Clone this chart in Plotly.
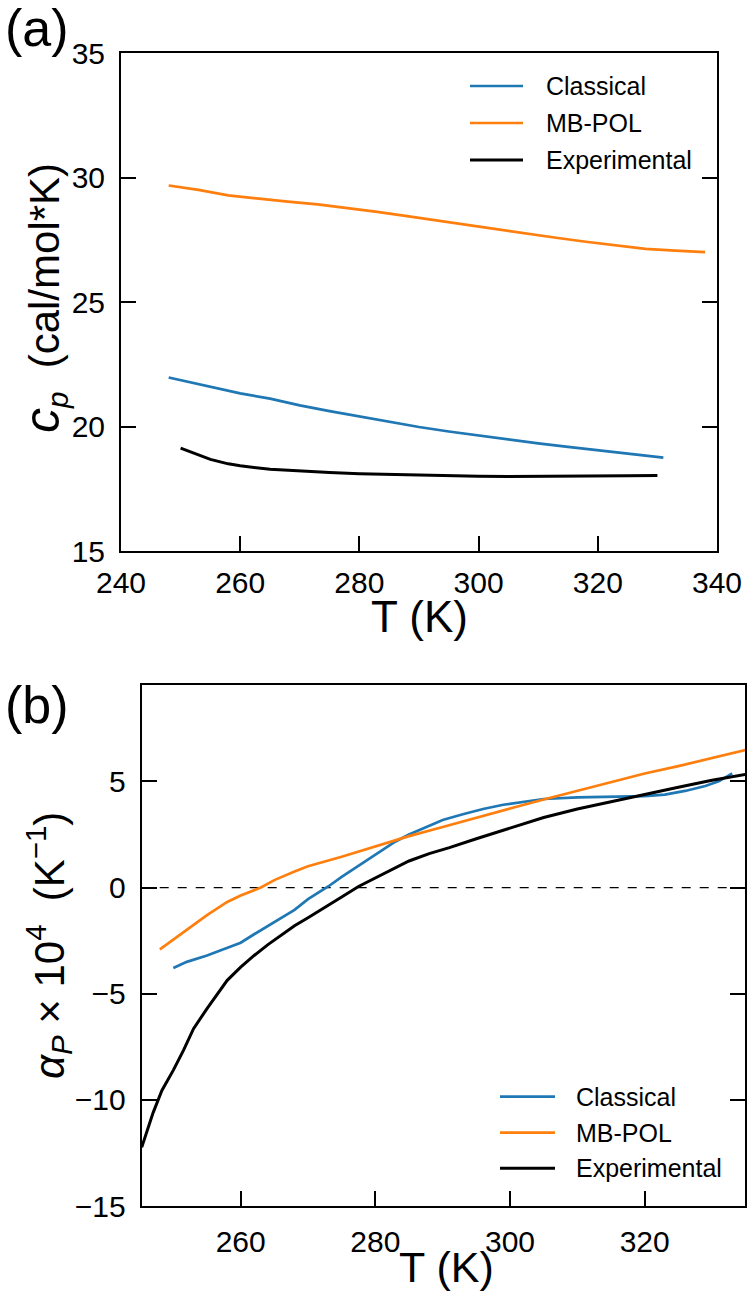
import plotly.graph_objects as go

W, H = 750, 1295
FONT = "Liberation Sans, Arial, Helvetica, sans-serif"

# ---------------- Panel (a): heat capacity c_p (cal/mol*K) ----------------
T_cp_classical = [248, 255, 260, 265, 270, 275, 280, 285, 290, 295, 300, 305, 310, 315, 320, 325, 331]
cp_classical = [21.97, 21.6, 21.33, 21.12, 20.85, 20.62, 20.4, 20.18, 19.98, 19.8, 19.63, 19.47,
                19.32, 19.18, 19.05, 18.93, 18.75]
T_cp_mbpol = [248, 253, 258, 263, 268, 273, 278, 283, 288, 293, 298, 303, 308, 313, 318, 323, 328, 333, 338]
cp_mbpol = [29.68, 29.5, 29.28, 29.15, 29.03, 28.92, 28.78, 28.62, 28.45, 28.27, 28.1, 27.92,
            27.76, 27.58, 27.42, 27.28, 27.13, 27.06, 27.0]
T_cp_exp = [250, 252, 255, 258, 260, 265, 270, 275, 280, 285, 290, 295, 300, 305, 310, 315, 320, 325, 330]
cp_exp = [19.13, 18.95, 18.68, 18.5, 18.42, 18.28, 18.2, 18.15, 18.1, 18.07, 18.03, 18.01, 18.0,
          17.99, 17.99, 18.0, 18.01, 18.02, 18.03]
cp_xticks = [240, 260, 280, 300, 320, 340]
cp_yticks = [15, 20, 25, 30, 35]

# ---------------- Panel (b): thermal expansion alpha_P x 10^4 (K^-1) ----------------
T_a_classical = [250, 252, 255, 258, 260, 262, 265, 268, 270, 273, 275, 278, 280, 283, 285, 288, 290,
                 293, 296, 299, 302, 305, 310, 315, 320, 323, 326, 329, 331, 333]
a_classical = [-3.79, -3.5, -3.2, -2.85, -2.6, -2.2, -1.62, -1.05, -0.55, 0.05, 0.5, 1.12, 1.55, 2.17,
               2.5, 2.92, 3.18, 3.45, 3.7, 3.9, 4.05, 4.17, 4.25, 4.28, 4.31, 4.38, 4.55, 4.78, 5.0, 5.38]
T_a_mbpol = [248, 250, 252, 255, 258, 260, 263, 265, 268, 270, 275, 280, 285, 290, 295, 300, 305,
             310, 315, 320, 325, 330, 335]
a_mbpol = [-2.91, -2.45, -1.98, -1.3, -0.68, -0.38, 0.0, 0.35, 0.76, 1.0, 1.45, 1.92, 2.42, 2.85, 3.3,
           3.72, 4.15, 4.56, 4.96, 5.37, 5.72, 6.1, 6.48]
T_a_exp = [245.3, 246, 247, 248.3, 250, 251.5, 253, 255, 258, 260, 262, 264, 266, 268, 270, 273, 275,
           277.5, 280, 283, 285, 288, 291, 295, 298, 301, 305, 310, 315, 320, 325, 330, 335]
a_exp = [-12.24, -11.6, -10.6, -9.56, -8.6, -7.67, -6.65, -5.7, -4.37, -3.75, -3.2, -2.7, -2.25, -1.8,
         -1.42, -0.85, -0.45, 0.05, 0.45, 0.95, 1.25, 1.6, 1.88, 2.3, 2.6, 2.9, 3.3, 3.7, 4.05, 4.38,
         4.72, 5.05, 5.33]
a_xticks = [260, 280, 300, 320]
a_yticks = [-15, -10, -5, 0, 5]

series_names = ["Classical", "MB-POL", "Experimental"]
series_colors = ["#1f77b4", "#ff7f0e", "#000000"]
series_widths = [2.7, 2.7, 3.0]


def px(xp):
    return xp / W


def py(yp):
    return 1 - yp / H


fig = go.Figure()

panel_a = [(T_cp_classical, cp_classical), (T_cp_mbpol, cp_mbpol), (T_cp_exp, cp_exp)]
panel_b = [(T_a_classical, a_classical), (T_a_mbpol, a_mbpol), (T_a_exp, a_exp)]

for (xs, ys), name, col, lw in zip(panel_a, series_names, series_colors, series_widths):
    fig.add_trace(go.Scatter(x=xs, y=ys, mode="lines", name=name, showlegend=False,
                             line=dict(color=col, width=lw), xaxis="x", yaxis="y"))
for (xs, ys), name, col, lw in zip(panel_b, series_names, series_colors, series_widths):
    fig.add_trace(go.Scatter(x=xs, y=ys, mode="lines", name=name, showlegend=False,
                             line=dict(color=col, width=lw), xaxis="x2", yaxis="y2"))

axis_common = dict(showline=True, linecolor="black", linewidth=2, ticks="inside", ticklen=15,
                   tickwidth=2, tickcolor="black", showgrid=False, zeroline=False, automargin=False,
                   tickfont=dict(family=FONT, size=30, color="black"))

fig.update_layout(
    width=W, height=H, margin=dict(l=0, r=0, t=0, b=0, pad=0, autoexpand=False),
    paper_bgcolor="white", plot_bgcolor="white", showlegend=False,
    xaxis=dict(axis_common, domain=[px(121), px(717)], range=[240, 340], tickvals=cp_xticks,
               mirror=True, anchor="y", ticklabelstandoff=4),
    yaxis=dict(axis_common, domain=[py(551), py(53)], range=[15, 35], tickvals=cp_yticks,
               mirror="ticks", anchor="x", ticklabelstandoff=8),
    xaxis2=dict(axis_common, domain=[px(141.7), px(745)], range=[245.3, 334.9], tickvals=a_xticks,
                mirror=True, anchor="y2", ticklabelstandoff=8),
    yaxis2=dict(axis_common, domain=[py(1206), py(685)], range=[-15, 9.54], tickvals=a_yticks,
                mirror="ticks", anchor="x2", ticklabelstandoff=8),
)

shapes = []
annotations = []

# dashed zero line in panel (b)
shapes.append(dict(type="line", xref="x2 domain", yref="y2", x0=0, x1=1, y0=0, y1=0,
                   line=dict(color="black", width=1.3, dash="dash"), layer="below"))

# legends (drawn manually to match sample line length)
legend_a = dict(x0=470, x1=523, ys=[86, 123, 160], tx=544)
legend_b = dict(x0=500, x1=555, ys=[1096.7, 1132.7, 1168.3], tx=574)
for leg in (legend_a, legend_b):
    for name, col, lw, yy in zip(series_names, series_colors, series_widths, leg["ys"]):
        shapes.append(dict(type="line", xref="paper", yref="paper", x0=px(leg["x0"]), x1=px(leg["x1"]),
                           y0=py(yy), y1=py(yy), line=dict(color=col, width=lw)))
        annotations.append(dict(text=name, xref="paper", yref="paper", x=px(leg["tx"]), y=py(yy),
                                xanchor="left", yanchor="middle", showarrow=False,
                                font=dict(family=FONT, size=25, color="black")))

# panel labels
annotations.append(dict(text="(a)", xref="paper", yref="paper", x=px(37), y=py(28), showarrow=False,
                        xanchor="center", yanchor="middle", font=dict(family=FONT, size=52, color="black")))
annotations.append(dict(text="(b)", xref="paper", yref="paper", x=px(37), y=py(705), showarrow=False,
                        xanchor="center", yanchor="middle", font=dict(family=FONT, size=52, color="black")))

# axis titles
annotations.append(dict(text="T (K)", xref="paper", yref="paper", x=px(419), y=py(616), showarrow=False,
                        xanchor="center", yanchor="middle", font=dict(family=FONT, size=44, color="black")))
annotations.append(dict(text="T (K)", xref="paper", yref="paper", x=px(446), y=py(1267), showarrow=False,
                        xanchor="center", yanchor="middle", font=dict(family=FONT, size=43, color="black")))
annotations.append(dict(text="<span style='font-size:50px'><i>c</i></span><sub><i>p</i></sub>&nbsp;&nbsp;(cal/mol*K)",
                        xref="paper", yref="paper", x=px(44), y=py(298), showarrow=False, textangle=-90,
                        xanchor="center", yanchor="middle", font=dict(family=FONT, size=42, color="black")))
annotations.append(dict(text="<i>α</i><sub><i>P</i></sub> × 10<sup>4</sup>&nbsp;&nbsp;(K<sup>−1</sup>)",
                        xref="paper", yref="paper", x=px(48), y=py(946), showarrow=False, textangle=-90,
                        xanchor="center", yanchor="middle", font=dict(family=FONT, size=42, color="black")))

fig.update_layout(shapes=shapes, annotations=annotations)
fig.write_html("out.html")
